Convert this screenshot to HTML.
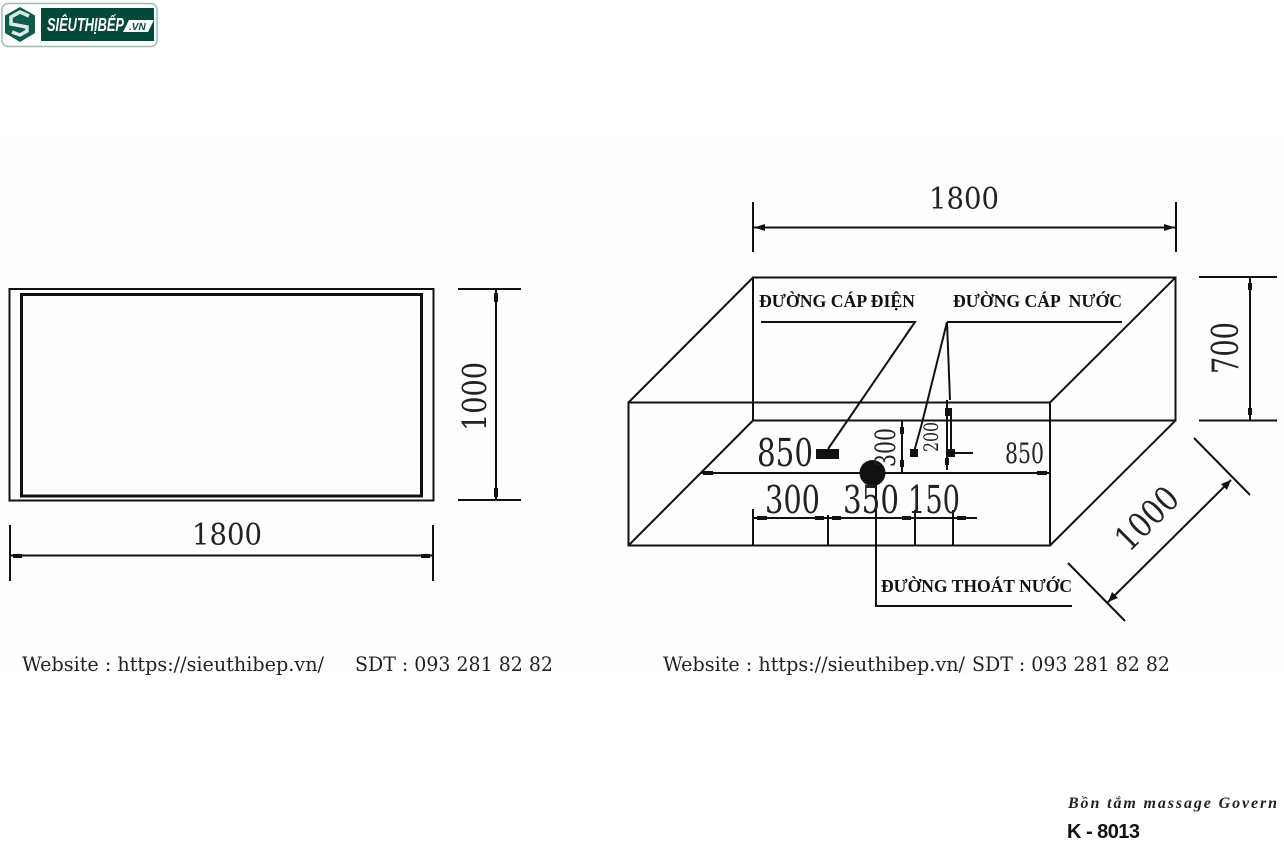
<!DOCTYPE html>
<html><head><meta charset="utf-8"><style>
html,body{margin:0;padding:0;background:#fff;width:1284px;height:843px;overflow:hidden}
svg{display:block}
.d{font-family:"DejaVu Serif","Liberation Serif",serif;fill:#222}
.v{font-family:"Liberation Serif",serif;font-weight:bold;fill:#111;font-size:18px}
</style></head><body>
<svg width="1284" height="843" viewBox="0 0 1284 843" xmlns="http://www.w3.org/2000/svg">
<rect x="0" y="140" width="1284" height="535" fill="#fefefe"/>
<!-- logo -->
<rect x="2" y="3.500" width="155" height="43" rx="6" fill="#fff" stroke="#9dbdb5" stroke-width="1.5"/>
<polygon points="20,7 35,15.500 35,33 20,42 5,33 5,15.500" fill="#0f5a4c"/>
<path d="M29 16 L20 12 L11 17 L11 24 L27 27 L27 31 L20 35 L12 32" fill="none" stroke="#d8ece6" stroke-width="3.500"/>
<rect x="41" y="8" width="113" height="33" fill="#04483a"/>
<text x="47" y="31" font-family="'Liberation Sans',sans-serif" font-style="italic" font-weight="bold" font-size="18" fill="#fff" textLength="77" lengthAdjust="spacingAndGlyphs">SIÊUTHỊBẾP</text>
<polygon points="129,20 154,20 148,32 123,32" fill="#fff"/>
<text x="129" y="30" font-family="'Liberation Sans',sans-serif" font-style="italic" font-weight="bold" font-size="10" fill="#04483a">.VN</text>

<g fill="none" stroke="#111" stroke-width="2">
<!-- left plan -->
<rect x="9.500" y="289" width="424" height="211.500"/>
<rect x="21.500" y="294.500" width="400" height="201.500" stroke-width="3"/>
<path d="M458 289H521M458 500H521M496 289V500"/>
<path d="M10 525V581M433 525V581M11 555.500H432"/>
<!-- box -->
<rect x="628.500" y="402.500" width="421.500" height="143"/>
<rect x="753" y="277.500" width="422.500" height="143"/>
<path d="M628.500 402.500L753 277.500M1050 402.500L1175.500 277.500M628.500 545.500L753 420.500M1050 545.500L1175.500 420.500"/>
<!-- top dim -->
<path d="M753 202V252M1176 202V252M754 227.500H1175"/>
<!-- 700 -->
<path d="M1199 277H1277M1199 420.500H1277M1250 277V420"/>
<!-- 1000 -->
<path d="M1194 438L1250 495M1068 563L1125 621M1231 480L1108 602"/>
<!-- leaders -->
<path d="M761 322H915L828 449"/>
<path d="M947 322H1122M947 322L922 423L914 452M947 322L950 400M947 400V470M951 410V456M951 453H973"/>
<!-- inner dims -->
<path d="M902 420V473M700 473H1050"/>
<path d="M753 509V545M828 515V545M915 510V545M953 510V545M753 518H977"/>
<path d="M876 480V606H1072"/>
</g>
<!-- arrowheads -->
<g fill="#111">
<rect x="494" y="293" width="4" height="9"/><rect x="494" y="488" width="4" height="9"/>
<rect x="13" y="554" width="9" height="4"/><rect x="421" y="554" width="9" height="4"/>
<polygon points="754,227.500 765,224 765,231"/><polygon points="1175,227.500 1164,224 1164,231"/>
<rect x="1248" y="283" width="4" height="7"/><rect x="1248" y="408" width="4" height="7"/>
<polygon points="1231,480 1221,484 1227,490"/><polygon points="1108,602 1118,598 1112,592"/>
<rect x="703" y="471" width="10" height="4"/><rect x="1037" y="471" width="10" height="4"/>
<rect x="900" y="427" width="4" height="7"/><rect x="900" y="460" width="4" height="7"/>
<rect x="945" y="408" width="7" height="8"/><rect x="947" y="449" width="8" height="8"/><rect x="945" y="458" width="4" height="7"/>
<rect x="757" y="516" width="10" height="4"/><rect x="815" y="516" width="9" height="4"/><rect x="832" y="516" width="9" height="4"/><rect x="902" y="516" width="9" height="4"/><rect x="957" y="516" width="9" height="4"/>
<rect x="816" y="449" width="23" height="10"/>
<rect x="910" y="449" width="8" height="8"/>
<circle cx="872.500" cy="473" r="13"/>
</g>
<!-- dimension text -->
<g class="d">
<text x="192" y="545" font-size="30" textLength="70" lengthAdjust="spacingAndGlyphs">1800</text>
<text x="929" y="209" font-size="30" textLength="70" lengthAdjust="spacingAndGlyphs">1800</text>
<text transform="translate(486,431) rotate(-90)" font-size="33" textLength="69" lengthAdjust="spacingAndGlyphs">1000</text>
<text transform="translate(1238,374) rotate(-90)" font-size="36" textLength="52" lengthAdjust="spacingAndGlyphs">700</text>
<text transform="translate(1129,553) rotate(-45)" font-size="34" textLength="74" lengthAdjust="spacingAndGlyphs">1000</text>
<text x="757" y="466" font-size="38" textLength="56" lengthAdjust="spacingAndGlyphs">850</text>
<text x="1005" y="463" font-size="28" textLength="39" lengthAdjust="spacingAndGlyphs">850</text>
<text x="765" y="513" font-size="38" textLength="55" lengthAdjust="spacingAndGlyphs">300</text>
<text x="843" y="513" font-size="38" textLength="56" lengthAdjust="spacingAndGlyphs">350</text>
<text x="908" y="513" font-size="38" textLength="52" lengthAdjust="spacingAndGlyphs">150</text>
<text transform="translate(895,467) rotate(-90)" font-size="28" textLength="39" lengthAdjust="spacingAndGlyphs">300</text>
<text transform="translate(938,452) rotate(-90)" font-size="20" textLength="30" lengthAdjust="spacingAndGlyphs">200</text>
</g>
<text class="v" x="759" y="307" textLength="156" lengthAdjust="spacingAndGlyphs">ĐƯỜNG CÁP ĐIỆN</text>
<text class="v" x="953" y="307" textLength="169" lengthAdjust="spacingAndGlyphs" xml:space="preserve">ĐƯỜNG CÁP  NƯỚC</text>
<text class="v" x="881" y="592" textLength="191" lengthAdjust="spacingAndGlyphs">ĐƯỜNG THOÁT NƯỚC</text>
<!-- footer -->
<g font-family="'DejaVu Serif',serif" font-size="19.500" fill="#222">
<text x="22" y="671" textLength="302" lengthAdjust="spacingAndGlyphs">Website : https://sieuthibep.vn/</text>
<text x="355" y="671" textLength="198" lengthAdjust="spacingAndGlyphs">SDT : 093 281 82 82</text>
<text x="663" y="671" textLength="302" lengthAdjust="spacingAndGlyphs">Website : https://sieuthibep.vn/</text>
<text x="972" y="671" textLength="198" lengthAdjust="spacingAndGlyphs">SDT : 093 281 82 82</text>
</g>
<text x="1068" y="808" font-family="'Liberation Serif',serif" font-style="italic" font-weight="bold" font-size="16" fill="#222" textLength="209">Bồn tắm massage Govern</text>
<text x="1067" y="838" font-family="'Liberation Sans',sans-serif" font-weight="bold" font-size="20" fill="#111" textLength="73">K - 8013</text>
</svg>
</body></html>
